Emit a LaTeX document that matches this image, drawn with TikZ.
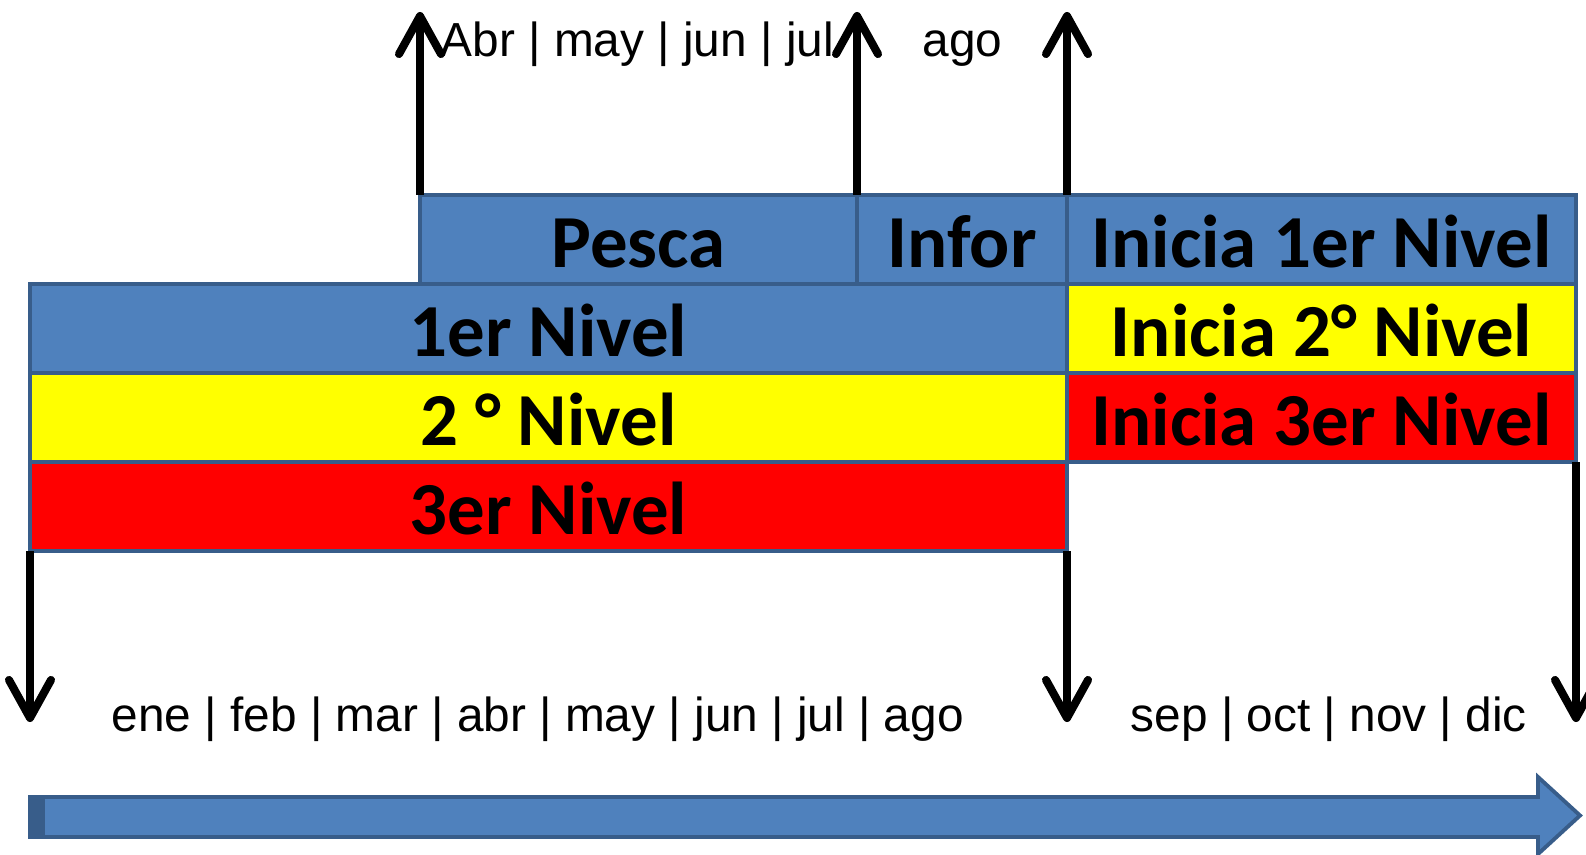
\documentclass[tikz,border=0pt]{standalone}
\usepackage{fontspec}
\usepackage{tikz}
\usetikzlibrary{arrows.meta,positioning}
\newfontfamily\boxfont{Carlito}
\newfontfamily\monthfont{Liberation Sans}
\definecolor{officeblue}{HTML}{4F81BD}
\definecolor{officeedge}{HTML}{385D8A}
\definecolor{levelyellow}{HTML}{FFFF00}
\definecolor{levelred}{HTML}{FF0000}
\tikzset{levelcell/.style={draw=officeedge,line width=1.4pt,rectangle,minimum height=0.89cm,inner sep=0,outer sep=0,node distance=0,text height=0.555cm,text depth=0cm,font=\boxfont\bfseries\fontsize{21.3}{24}\selectfont},
    monthtext/.style={anchor=base west,inner sep=0,font=\monthfont\fontsize{13.6}{16}\selectfont},
    timearrow/.style={line width=2.3pt,-{Straight Barb[length=0.38cm,width=0.42cm,line cap=round,line join=round]}},
    bigarrow/.style={draw=officeedge,fill=officeblue,line width=1.1pt,line join=miter}}

\begin{document}
\begin{tikzpicture}

\useasboundingbox (0,0) rectangle (15.86,8.54);

\node (nivel1) [levelcell,fill=officeblue,minimum width=10.37cm,anchor=north west] at (0.30,5.70) {1er Nivel};
\node (nivel2) [levelcell,fill=levelyellow,minimum width=10.37cm,below=0cm of nivel1] {2 ° Nivel};
\node (nivel3) [levelcell,fill=levelred,minimum width=10.37cm,below=0cm of nivel2] {3er Nivel};

\node (inicia2) [levelcell,fill=levelyellow,minimum width=5.09cm,right=0cm of nivel1] {Inicia 2° Nivel};
\node (inicia3) [levelcell,fill=levelred,minimum width=5.09cm,right=0cm of nivel2] {Inicia 3er Nivel};
\node (inicia1) [levelcell,fill=officeblue,minimum width=5.09cm,above=0cm of inicia2] {Inicia 1er Nivel};
\node (infor) [levelcell,fill=officeblue,minimum width=2.10cm,left=0cm of inicia1] {Infor};
\node (pesca) [levelcell,fill=officeblue,minimum width=4.37cm,left=0cm of infor] {Pesca};

\foreach \boxcorner [count=\i] in {pesca.north west,pesca.north east,inicia1.north west}
{
    \coordinate [above=1.83cm of \boxcorner] (uptip\i);
    \draw [timearrow] (\boxcorner) -- (uptip\i);
}

\foreach \boxcorner/\drop [count=\i] in {nivel3.south west/1.71cm,nivel3.south east/1.71cm,inicia3.south east/2.60cm}
{
    \coordinate [below=\drop of \boxcorner] (downtip\i);
    \draw [timearrow] (\boxcorner) -- (downtip\i);
}

\node (topmonths) [monthtext] at (4.40,7.97) {Abr | may | jun | jul};
\node (topago) [monthtext] at (9.22,7.97) {ago};
\node (firstmonths) [monthtext] at (1.11,1.23) {ene | feb | mar | abr | may | jun | jul | ago};
\node (lastmonths) [monthtext] at (11.30,1.23) {sep | oct | nov | dic};

\draw [bigarrow] (0.30,0.17) -- (15.38,0.17) -- (15.38,0.0) -- (15.80,0.385) -- (15.38,0.77) -- (15.38,0.57) -- (0.30,0.57) -- cycle;
\fill [officeedge] (0.30,0.17) rectangle (0.45,0.57);

\end{tikzpicture}
\end{document}
